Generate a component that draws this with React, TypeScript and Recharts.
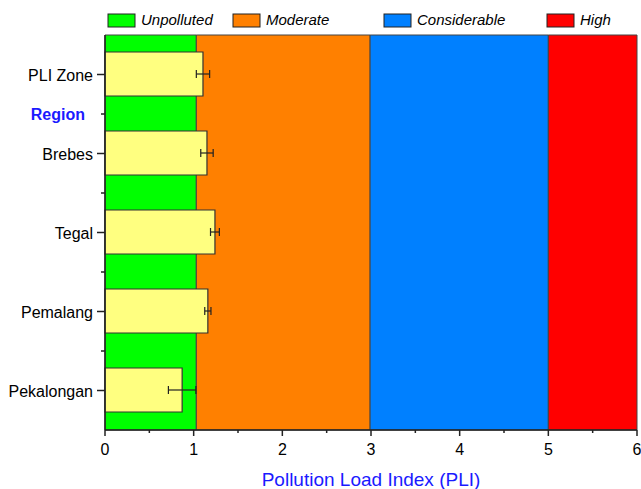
import { ComposedChart, Bar, XAxis, YAxis, ReferenceArea, ErrorBar, Legend } from "recharts";

const regions = ["PLI Zone", "Brebes", "Tegal", "Pemalang", "Pekalongan"];
const positions = [9, 7, 5, 3, 1];
const pli = [1.105, 1.15, 1.24, 1.16, 0.87];
const pliErr = [0.075, 0.07, 0.05, 0.035, 0.155];

const bandNames = ["Unpolluted", "Moderate", "Considerable", "High"];
const bandStart = [0, 1.03, 2.99, 5.0];
const bandEnd = [1.03, 2.99, 5.0, 6];
const bandColors = ["#00FF00", "#FF8000", "#0080FF", "#FF0000"];

const xTicks = [0, 0.5, 1, 1.5, 2, 2.5, 3, 3.5, 4, 4.5, 5, 5.5, 6];
const yTicks = [0, 1, 2, 3, 4, 5, 6, 7, 8, 9, 10];
const groupLabel = "Region";
const groupPos = 8;

const data = regions.map((name, i) => ({ name, y: positions[i], pli: pli[i], err: pliErr[i] }));

const font = "'Liberation Sans', Arial, sans-serif";
const axisColor = "#222";

const legendX = [108, 233, 384, 547];

function LegendBox() {
  return (
    <svg width={641} height={32} style={{ display: "block" }}>
      {bandNames.map((n, i) => (
        <g key={n}>
          <rect x={legendX[i]} y={14} width={27} height={13} fill={bandColors[i]} stroke="#222" strokeWidth={1} />
          <text x={legendX[i] + 33} y={25} fontFamily={font} fontSize={15} fontStyle="italic" fill="#000">
            {n}
          </text>
        </g>
      ))}
    </svg>
  );
}

function YTick(props: any) {
  const { x, y, payload } = props;
  const v = payload.value;
  const idx = positions.indexOf(v);
  if (idx >= 0) {
    return (
      <g>
        <line x1={x - 8} x2={x} y1={y} y2={y} stroke={axisColor} strokeWidth={1.5} />
        <text x={x - 12} y={y + 6} textAnchor="end" fontFamily={font} fontSize={16} fill="#000">
          {regions[idx]}
        </text>
      </g>
    );
  }
  if (v === 0 || v === 10) return <g />;
  return (
    <g>
      <line x1={x - 4} x2={x} y1={y} y2={y} stroke={axisColor} strokeWidth={1.5} />
      {v === groupPos && (
        <text x={85} y={y + 6} textAnchor="end" fontFamily={font} fontSize={16} fontWeight="bold" fill="#1a1aff">
          {groupLabel}
        </text>
      )}
    </g>
  );
}

function XTick(props: any) {
  const { x, y, payload } = props;
  const v = payload.value;
  const major = Number.isInteger(v);
  return (
    <g>
      <line x1={x} x2={x} y1={y} y2={y + (major ? 6 : 3)} stroke={axisColor} strokeWidth={1.5} />
      {major && (
        <text x={x} y={y + 25} textAnchor="middle" fontFamily={font} fontSize={16} fill="#000">
          {v}
        </text>
      )}
    </g>
  );
}

export default function App() {
  return (
    <div style={{ position: "absolute", left: 0, top: 0, background: "#fff" }}>
      <ComposedChart
        width={641}
        height={489}
        data={data}
        layout="vertical"
        margin={{ top: 3, right: 4, left: 0, bottom: 0 }}
      >
        <XAxis
          type="number"
          dataKey="pli"
          domain={[0, 6]}
          ticks={xTicks}
          interval={0}
          height={59}
          tickSize={0}
          tickMargin={0}
          tick={<XTick />}
          axisLine={{ stroke: axisColor, strokeWidth: 1.5 }}
          label={{ value: "Pollution Load Index (PLI)", position: "insideBottom", offset: 3, fill: "#1a1aff", fontSize: 19, fontFamily: font }}
        />
        <XAxis
          xAxisId="top"
          orientation="top"
          type="number"
          domain={[0, 6]}
          ticks={xTicks}
          height={0}
          mirror
          tickSize={3}
          tickFormatter={() => ""}
          tickLine={{ stroke: "#666" }}
          axisLine={{ stroke: axisColor, strokeWidth: 1.5 }}
        />
        <YAxis
          type="number"
          dataKey="y"
          domain={[0, 10]}
          ticks={yTicks}
          interval={0}
          reversed
          width={105}
          tickSize={0}
          tickMargin={0}
          tick={<YTick />}
          axisLine={{ stroke: axisColor, strokeWidth: 1.5 }}
        />
        <YAxis
          yAxisId="right"
          orientation="right"
          type="number"
          domain={[0, 10]}
          ticks={yTicks}
          width={0}
          mirror
          tickSize={3}
          tickFormatter={() => ""}
          tickLine={{ stroke: "#666" }}
          axisLine={{ stroke: axisColor, strokeWidth: 1.5 }}
        />
        <Legend verticalAlign="top" content={() => <LegendBox />} wrapperStyle={{ top: 0, left: 0, width: 641, height: 32 }} />
        {bandNames.map((n, i) => (
          <ReferenceArea
            key={n}
            x1={bandStart[i]}
            x2={bandEnd[i]}
            y1={0}
            y2={10}
            fill={bandColors[i]}
            fillOpacity={1}
            stroke="#444"
            strokeWidth={1}
            ifOverflow="visible"
          />
        ))}
        <Bar dataKey="pli" barSize={44} fill="#FFFF80" stroke="#333" strokeWidth={1.2} isAnimationActive={false}>
          <ErrorBar dataKey="err" direction="x" width={4} stroke="#222" strokeWidth={1.2} />
        </Bar>
      </ComposedChart>
    </div>
  );
}
